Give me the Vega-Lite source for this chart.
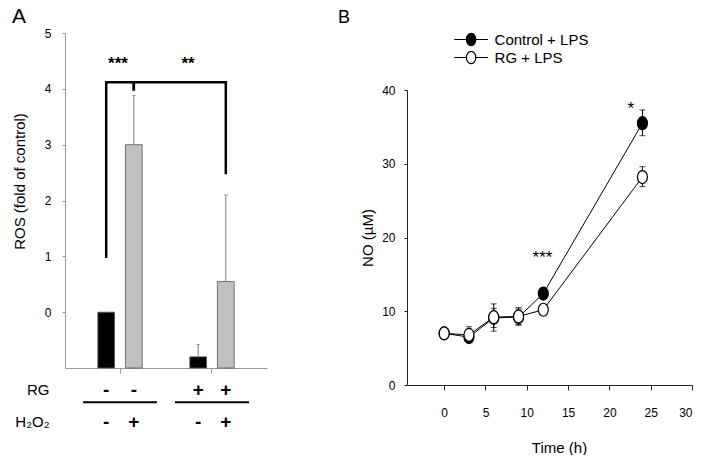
{
  "$schema": "https://vega.github.io/schema/vega-lite/v6.json",
  "padding": {"left": 12, "top": 6, "right": 0, "bottom": 0},
  "config": {
    "view": {"stroke": null},
    "font": "Liberation Sans",
    "axis": {"grid": false, "labelColor": "#000000", "titleColor": "#000000", "titleFontWeight": "normal"},
    "title": {"color": "#000000"}
  },
  "datasets": {
    "ros": [
      {"group": "control", "treat": "vehicle", "rg": "-", "h2o2": "-", "fold": 1.0, "upper": null},
      {"group": "control", "treat": "H2O2", "rg": "-", "h2o2": "+", "fold": 4.0, "upper": 4.88},
      {"group": "RG", "treat": "vehicle", "rg": "+", "h2o2": "-", "fold": 0.2, "upper": 0.42},
      {"group": "RG", "treat": "H2O2", "rg": "+", "h2o2": "+", "fold": 1.55, "upper": 3.1}
    ],
    "brackets": [
      {"bracket": "left", "step": 1, "group": "control", "treat": "vehicle", "level": 1.97},
      {"bracket": "left", "step": 2, "group": "control", "treat": "vehicle", "level": 5.12},
      {"bracket": "left", "step": 3, "group": "control", "treat": "H2O2", "level": 5.12},
      {"bracket": "left", "step": 4, "group": "control", "treat": "H2O2", "level": 4.97},
      {"bracket": "right", "step": 1, "group": "control", "treat": "H2O2", "level": 4.97},
      {"bracket": "right", "step": 2, "group": "control", "treat": "H2O2", "level": 5.12},
      {"bracket": "right", "step": 3, "group": "RG", "treat": "H2O2", "level": 5.12},
      {"bracket": "right", "step": 4, "group": "RG", "treat": "H2O2", "level": 3.47}
    ],
    "no": [
      {"series": "Control + LPS", "time": 0, "no": 7.0, "lo": null, "hi": null},
      {"series": "Control + LPS", "time": 3, "no": 6.5, "lo": 5.8, "hi": 7.3},
      {"series": "Control + LPS", "time": 6, "no": 9.1, "lo": 7.8, "hi": 10.4},
      {"series": "Control + LPS", "time": 9, "no": 9.2, "lo": 8.2, "hi": 10.3},
      {"series": "Control + LPS", "time": 12, "no": 12.4, "lo": null, "hi": null},
      {"series": "Control + LPS", "time": 24, "no": 35.5, "lo": 33.8, "hi": 37.3},
      {"series": "RG + LPS", "time": 0, "no": 7.0, "lo": null, "hi": null},
      {"series": "RG + LPS", "time": 3, "no": 6.8, "lo": 5.8, "hi": 7.9},
      {"series": "RG + LPS", "time": 6, "no": 9.2, "lo": 7.3, "hi": 11.0},
      {"series": "RG + LPS", "time": 9, "no": 9.3, "lo": 8.1, "hi": 10.5},
      {"series": "RG + LPS", "time": 12, "no": 10.2, "lo": null, "hi": null},
      {"series": "RG + LPS", "time": 24, "no": 28.2, "lo": 26.9, "hi": 29.6}
    ]
  },
  "resolve": {"scale": {"fill": "independent"}, "legend": {"fill": "independent"}},
  "spacing": 71,
  "hconcat": [
    {
      "spacing": 6,
      "bounds": "flush",
      "vconcat": [
        {
          "width": 202,
          "height": 335,
          "title": {"text": "A", "anchor": "start", "frame": "group", "fontSize": 21, "fontWeight": "normal", "dx": -53, "offset": 0},
          "layer": [
            {
              "data": {"name": "ros"},
              "mark": {"type": "bar", "stroke": "#5a5a5a", "strokeWidth": 0.8},
              "encoding": {
                "x": {"field": "group", "type": "nominal", "sort": ["control", "RG"], "scale": {"paddingInner": 0.196, "paddingOuter": 0.196}, "axis": {"title": null, "labels": false, "domainColor": "#999999", "tickColor": "#999999", "tickSize": 5}},
                "xOffset": {"field": "treat", "type": "nominal", "sort": ["vehicle", "H2O2"], "scale": {"paddingInner": 0.393, "paddingOuter": 0.536}},
                "y": {"field": "fold", "type": "quantitative", "scale": {"domain": [0, 6], "nice": false}, "axis": {"title": "ROS (fold of control)", "values": [1, 2, 3, 4, 5, 6], "labelExpr": "format(datum.value - 1, 'd')", "domainColor": "#999999", "tickColor": "#999999", "tickSize": 3, "labelFontSize": 12, "labelPadding": 11, "titleFontSize": 15, "titleX": -46, "titleY": 148, "titleBaseline": "middle"}},
                "fill": {"field": "treat", "type": "nominal", "sort": ["vehicle", "H2O2"], "scale": {"range": ["#000000", "#c0c0c0"]}, "legend": null}
              }
            },
            {
              "data": {"name": "ros"},
              "transform": [{"filter": "datum.upper != null"}],
              "mark": {"type": "rule", "color": "#808080", "strokeWidth": 1},
              "encoding": {
                "x": {"field": "group", "type": "nominal", "sort": ["control", "RG"]},
                "xOffset": {"field": "treat", "type": "nominal", "sort": ["vehicle", "H2O2"]},
                "y": {"field": "fold", "type": "quantitative"},
                "y2": {"field": "upper"}
              }
            },
            {
              "data": {"name": "ros"},
              "transform": [{"filter": "datum.upper != null"}],
              "mark": {"type": "tick", "orient": "horizontal", "size": 4, "thickness": 1, "color": "#808080"},
              "encoding": {
                "x": {"field": "group", "type": "nominal", "sort": ["control", "RG"]},
                "xOffset": {"field": "treat", "type": "nominal", "sort": ["vehicle", "H2O2"]},
                "y": {"field": "upper", "type": "quantitative"}
              }
            },
            {
              "data": {"name": "brackets"},
              "mark": {"type": "line", "color": "#000000", "strokeWidth": 2.5, "strokeJoin": "miter"},
              "encoding": {
                "x": {"field": "group", "type": "nominal", "sort": ["control", "RG"]},
                "xOffset": {"field": "treat", "type": "nominal", "sort": ["vehicle", "H2O2"]},
                "y": {"field": "level", "type": "quantitative"},
                "detail": {"field": "bracket"},
                "order": {"field": "step"}
              }
            },
            {
              "data": {"values": [{"group": "control", "label": "***", "level": 5.35}]},
              "mark": {"type": "text", "fontSize": 17, "fontWeight": "bold", "baseline": "alphabetic", "dx": -2},
              "encoding": {
                "x": {"field": "group", "type": "nominal", "sort": ["control", "RG"]},
                "y": {"field": "level", "type": "quantitative"},
                "text": {"field": "label"}
              }
            },
            {
              "data": {"values": [{"group": "RG", "label": "**", "level": 5.35}]},
              "mark": {"type": "text", "fontSize": 17, "fontWeight": "bold", "baseline": "alphabetic", "dx": -24},
              "encoding": {
                "x": {"field": "group", "type": "nominal", "sort": ["control", "RG"]},
                "y": {"field": "level", "type": "quantitative"},
                "text": {"field": "label"}
              }
            }
          ]
        },
        {
          "width": 202,
          "height": 63.4,
          "data": {"name": "ros"},
          "transform": [{"fold": ["rg", "h2o2"], "as": ["factor", "sign"]}],
          "layer": [
            {
              "mark": {"type": "text", "fontSize": 19, "fontWeight": "bold", "baseline": "middle"},
              "encoding": {
                "x": {"field": "group", "type": "nominal", "sort": ["control", "RG"], "scale": {"paddingInner": 0.196, "paddingOuter": 0.196}, "axis": null},
                "xOffset": {"field": "treat", "type": "nominal", "sort": ["vehicle", "H2O2"], "scale": {"paddingInner": 0.393, "paddingOuter": 0.536}},
                "y": {"field": "factor", "type": "nominal", "sort": ["rg", "h2o2"], "scale": {"paddingInner": 0, "paddingOuter": 0}, "axis": {"title": null, "domain": false, "ticks": false, "tickSize": 0, "labelPadding": 16, "labelFontSize": 15, "labelExpr": "datum.value == 'rg' ? 'RG' : 'H₂O₂'"}},
                "text": {"field": "sign"}
              }
            },
            {
              "transform": [{"filter": "datum.factor == 'rg' && datum.treat == 'vehicle'"}],
              "mark": {"type": "rule", "color": "#000000", "strokeWidth": 2},
              "encoding": {
                "x": {"field": "group", "type": "nominal", "sort": ["control", "RG"], "bandPosition": 0},
                "x2": {"field": "group", "bandPosition": 1},
                "y": {"field": "factor", "type": "nominal", "sort": ["rg", "h2o2"], "bandPosition": 0.89}
              }
            }
          ]
        }
      ]
    },
    {
      "spacing": 7,
      "bounds": "flush",
      "vconcat": [
        {
          "width": 285,
          "height": 50,
          "data": {"values": [{}]},
          "mark": {"type": "text", "text": ""}
        },
        {
          "width": 285,
          "height": 295,
          "title": {"text": "B", "anchor": "start", "frame": "group", "fontSize": 18, "fontWeight": "normal", "dx": -69, "offset": 57},
          "data": {"name": "no"},
          "encoding": {
            "x": {"field": "time", "type": "quantitative", "scale": {"domain": [-4.5, 30], "nice": false, "zero": false}, "axis": {"title": "Time (h)", "values": [0, 5, 10, 15, 20, 25, 30], "tickSize": 5, "labelPadding": 17, "labelFontSize": 12, "titleFontSize": 15, "titlePadding": 22, "titleX": 152, "domainColor": "#222222", "tickColor": "#222222"}}
          },
          "layer": [
            {
              "mark": {"type": "line", "color": "#000000", "strokeWidth": 1},
              "encoding": {
                "y": {"field": "no", "type": "quantitative", "scale": {"domain": [0, 40], "nice": false}, "axis": {"title": "NO (µM)", "values": [0, 5, 10, 15, 20, 25, 30, 35, 40], "tickSize": 3, "labelPadding": 9, "labelFontSize": 12, "titleFontSize": 15, "titlePadding": 6, "domainColor": "#222222", "tickColor": "#222222"}},
                "detail": {"field": "series"}
              }
            },
            {
              "transform": [{"filter": "datum.lo != null"}],
              "mark": {"type": "rule", "color": "#000000", "strokeWidth": 1},
              "encoding": {
                "y": {"field": "lo", "type": "quantitative"},
                "y2": {"field": "hi"}
              }
            },
            {
              "transform": [{"filter": "datum.lo != null"}],
              "mark": {"type": "tick", "orient": "horizontal", "size": 6, "thickness": 1, "color": "#000000"},
              "encoding": {"y": {"field": "lo", "type": "quantitative"}}
            },
            {
              "transform": [{"filter": "datum.lo != null"}],
              "mark": {"type": "tick", "orient": "horizontal", "size": 6, "thickness": 1, "color": "#000000"},
              "encoding": {"y": {"field": "hi", "type": "quantitative"}}
            },
            {
              "mark": {"type": "point", "filled": true, "stroke": "#000000", "strokeWidth": 1.2, "opacity": 1, "shape": "M-1,0A1,1.3 0 1,0 1,0A1,1.3 0 1,0 -1,0Z", "size": 100},
              "encoding": {
                "y": {"field": "no", "type": "quantitative"},
                "fill": {"field": "series", "type": "nominal", "sort": ["Control + LPS", "RG + LPS"], "scale": {"range": ["#000000", "#ffffff"]}, "legend": {"title": null, "orient": "none", "legendX": 56.6, "legendY": -1, "symbolType": "M-3.6,0H-1M1,0H3.6M-1,0A1,1.3 0 1,0 1,0A1,1.3 0 1,0 -1,0Z", "symbolSize": 88, "symbolStrokeColor": "#000000", "symbolStrokeWidth": 1.2, "labelFontSize": 15, "labelOffset": 16, "rowPadding": 1, "padding": 0, "labelColor": "#000000"}}
              }
            },
            {
              "data": {"values": [{"time": 22.6, "level": 36.7, "label": "*"}, {"time": 11.9, "level": 16.5, "label": "***"}]},
              "mark": {"type": "text", "fontSize": 17, "baseline": "alphabetic"},
              "encoding": {
                "y": {"field": "level", "type": "quantitative"},
                "text": {"field": "label"}
              }
            }
          ]
        }
      ]
    }
  ]
}
